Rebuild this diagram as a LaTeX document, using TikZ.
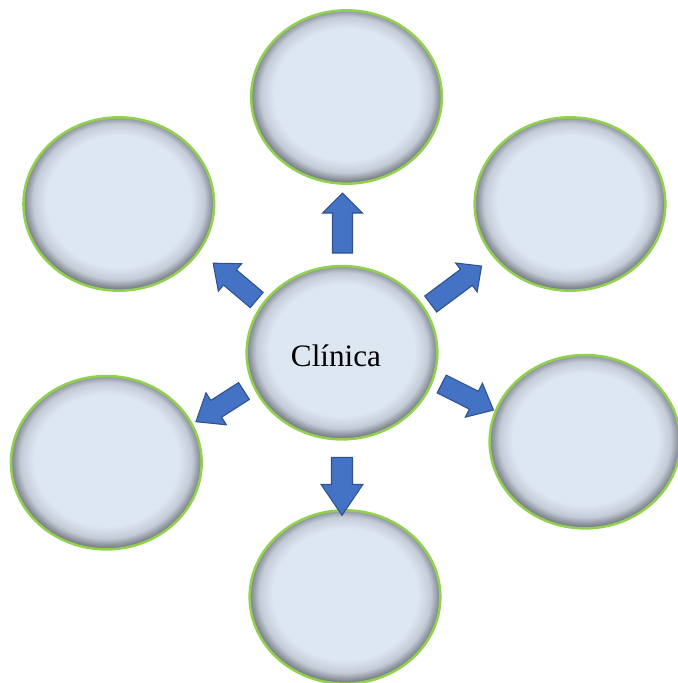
\documentclass[tikz,border=0pt]{standalone}
\usepackage{fontspec}
\setmainfont{Liberation Serif}
\usetikzlibrary{shapes.geometric}
\definecolor{inbl}{HTML}{DDE7F2}
\definecolor{midg}{HTML}{C3CBD6}
\definecolor{edg}{HTML}{6C707A}
\definecolor{ringg}{HTML}{92D050}
\definecolor{arrf}{HTML}{4472C4}
\definecolor{arrd}{HTML}{2F528F}
\pgfdeclareradialshading{innersh}{\pgfpoint{0bp}{1.2bp}}{color(0bp)=(inbl); color(19bp)=(inbl); color(22.5bp)=(midg); color(25.5bp)=(edg); color(50bp)=(edg)}
\tikzset{
  bubble/.style={ellipse, inner sep=0pt, shading=innersh, draw=ringg, line width=1.9pt,
    minimum width=143pt, minimum height=130pt},
  blockarr/.style={fill=arrf, draw=arrd, line width=0.8pt, line join=miter}
}
\newcommand\blockarrow[6]{% tail coord, angle, length, head length, shaft half, head half
  \begin{scope}[shift={(#1)}, rotate=#2]
    \draw[blockarr] (0,-#5) -- ({#3-#4},-#5) -- ({#3-#4},-#6) -- (#3,0) -- ({#3-#4},#6) -- ({#3-#4},#5) -- (0,#5) -- cycle;
  \end{scope}}
\begin{document}
\begin{tikzpicture}[x=0.75pt, y=-0.75pt]
\useasboundingbox (0,0) rectangle (678,683);
\node[bubble] (top) at (346.5,97) {};
\node[bubble] (ul) at (118.8,204) {};
\node[bubble] (ur) at (570,204) {};
\node[bubble] (ll) at (106.3,462.7) {};
\node[bubble] (lr) at (585,441.7) {};
\node[bubble] (bot) at (345,597) {};
\node[bubble] (c) at (342,352.7) {};
\node[anchor=base, inner sep=0pt, font=\fontsize{23.4pt}{28pt}\selectfont] (lbl) at (336,366.7) {Clínica};
\coordinate (tU) at (342.5,253);
\coordinate (tUL) at (256.7,300);
\coordinate (tUR) at (430.7,304);
\coordinate (tDR) at (441.7,384);
\coordinate (tD) at (342,457.3);
\coordinate (tDL) at (244,391);
\blockarrow{tU}{90}{60}{20}{10}{20}
\blockarrow{tUL}{139.8}{57}{22}{10}{18}
\blockarrow{tUR}{36.7}{63.5}{19}{10}{18}
\blockarrow{tDR}{-26.7}{58}{22}{10}{19}
\blockarrow{tD}{-90}{58}{31}{10.5}{21}
\blockarrow{tDL}{-147.4}{57}{24}{10}{19}
\end{tikzpicture}
\end{document}
